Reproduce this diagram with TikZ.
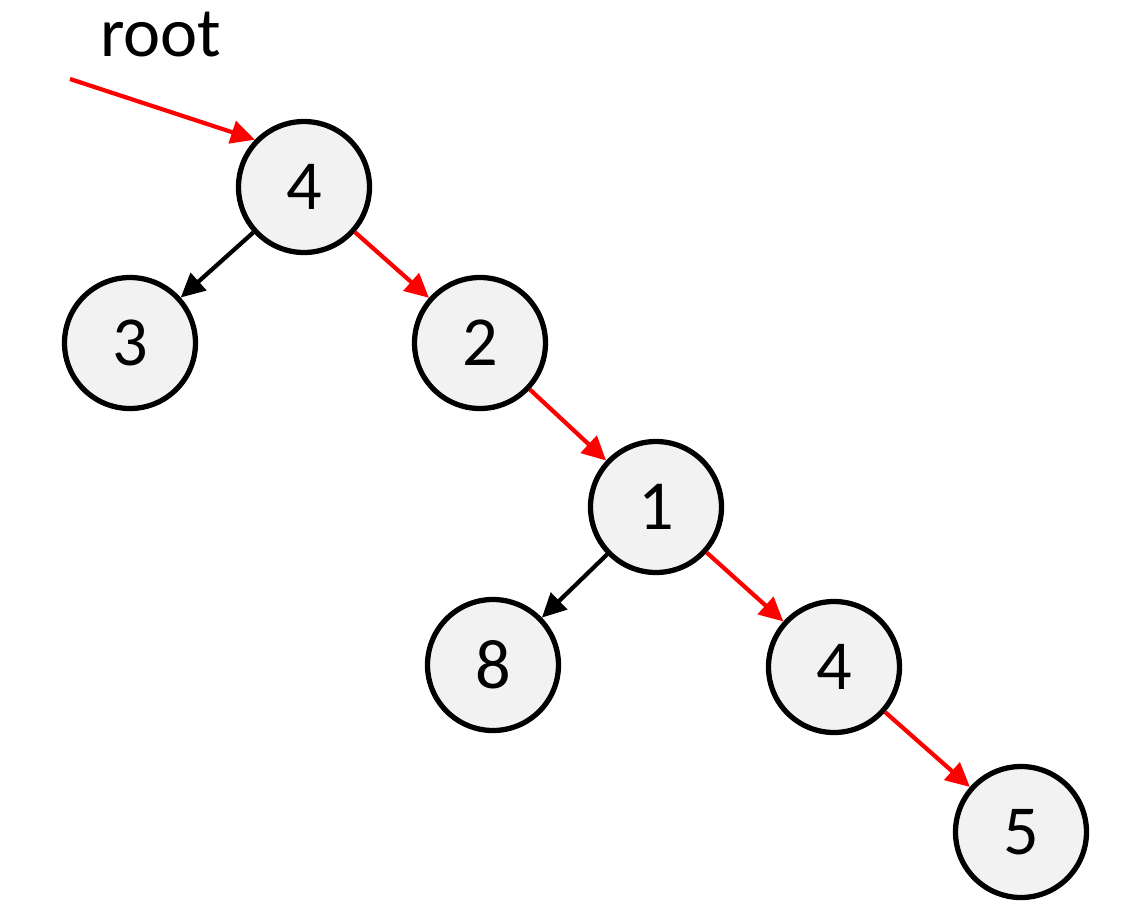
\documentclass[tikz,border=0pt]{standalone}
\usepackage{fontspec}
\setmainfont{Carlito}
\usetikzlibrary{arrows.meta,positioning}
\definecolor{nodegray}{RGB}{242,242,242}
\definecolor{pathred}{RGB}{255,0,0}
\tikzset{
  vertex/.style={
    circle, draw=black, line width=3pt,
    fill=nodegray, minimum size=2.62cm, inner sep=0pt,
    font=\fontsize{40}{48}\selectfont
  },
  label text/.style={font=\fontsize{40}{48}\selectfont, anchor=base},
  arrow/.style={-{Triangle[length=0.48cm,width=0.46cm]}, line width=2.4pt, draw=black},
  redarrow/.style={arrow, draw=pathred, fill=pathred},
}

\begin{document}
\begin{tikzpicture}[on grid]
\useasboundingbox (-6.08,3.74) rectangle (16.8,-14.46);
% --- Nodes ---
\node[vertex] (v4) at (0,0) {4};
\node[vertex, below left=3.12cm and 3.48cm of v4] (v3) {3};
\node[vertex, below right=3.12cm and 3.52cm of v4] (v2) {2};
\node[vertex, below right=3.28cm and 3.52cm of v2] (v1) {1};
\node[vertex, below left=3.16cm and 3.26cm of v1] (v8) {8};
\node[vertex, below right=3.2cm and 3.56cm of v1] (v4b) {4};
\node[vertex, below right=3.3cm and 3.74cm of v4b] (v5) {5};
\node[label text] (rootlbl) at (-2.86,2.62) {root};
\coordinate (rootin) at (-4.68,2.16);
% --- Arrows ---
\draw[redarrow] (rootin) -- (v4.136);
\draw[arrow] (v4) -- (v3);
\draw[redarrow] (v4) -- (v2);
\draw[redarrow] (v2) -- (v1);
\draw[arrow] (v1) -- (v8);
\draw[redarrow] (v1) -- (v4b);
\draw[redarrow] (v4b) -- (v5);
\end{tikzpicture}
\end{document}
